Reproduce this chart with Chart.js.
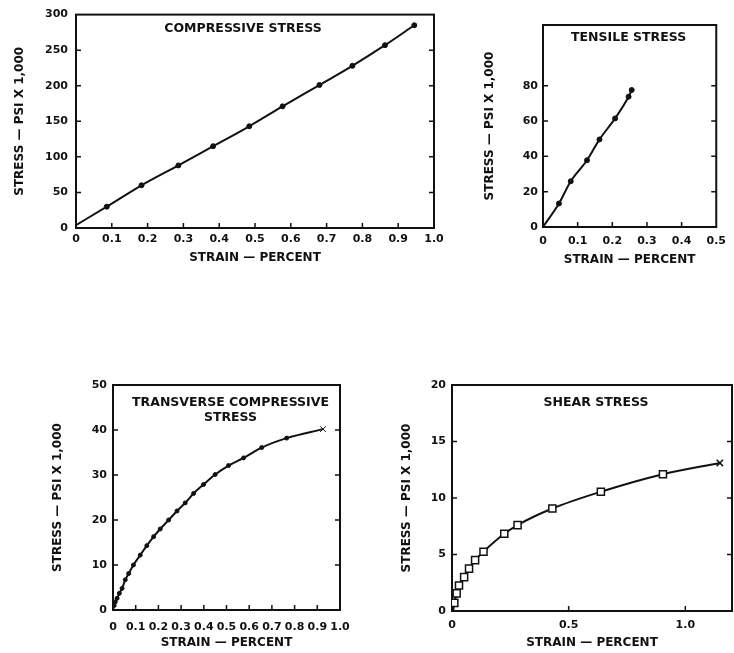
<!DOCTYPE html>
<html>
<head>
<meta charset="utf-8">
<script src="https://cdn.jsdelivr.net/npm/chart.js@4.4.0/dist/chart.umd.min.js"></script>
<style>
  body { margin: 0; background: #fff; width: 734px; height: 653px; position: relative; overflow: hidden; }
  canvas { position: absolute; }
  #comp  { left: 0;     top: 0; }
  #tens  { left: 470px; top: 0; }
  #trans { left: 0;     top: 370px; }
  #shear { left: 380px; top: 370px; }
</style>
</head>
<body>
<canvas id="comp" width="450" height="270"></canvas>
<canvas id="tens" width="264" height="270"></canvas>
<canvas id="trans" width="370" height="283"></canvas>
<canvas id="shear" width="354" height="283"></canvas>
<script>
// --- values (strain in percent, stress in psi x 1,000) ---
const compStrain = [0, 0.086, 0.183, 0.286, 0.383, 0.484, 0.577, 0.68, 0.772, 0.863, 0.945];
const compStress = [4, 30, 60, 88, 115, 143, 171, 201, 228, 257, 285];

const tensStrain = [0, 0.046, 0.08, 0.127, 0.163, 0.208, 0.247, 0.256];
const tensStress = [0, 13.3, 25.9, 37.8, 49.6, 61.5, 73.8, 77.6];

const transStrain = [0, 0.005, 0.01, 0.018, 0.028, 0.04, 0.054, 0.069, 0.09, 0.12, 0.149, 0.179,
                     0.208, 0.245, 0.282, 0.318, 0.355, 0.399, 0.45, 0.509, 0.575, 0.655, 0.765, 0.925];
const transStress = [0, 1, 1.8, 2.6, 3.7, 4.8, 6.7, 8.1, 10, 12.2, 14.3, 16.3,
                     18, 20, 22, 23.8, 25.9, 27.9, 30.1, 32.1, 33.8, 36.1, 38.2, 40.2];

const shearStrain = [0.005, 0.01, 0.02, 0.03, 0.052, 0.073, 0.099, 0.135, 0.224, 0.281, 0.43, 0.638, 0.904, 1.148];
const shearStress = [0, 0.72, 1.56, 2.25, 3.0, 3.75, 4.5, 5.25, 6.83, 7.6, 9.07, 10.55, 12.1, 13.1];

const xAxisTitle = 'STRAIN — PERCENT';
const yAxisTitle = 'STRESS — PSI X 1,000';

const INK = '#111';
Chart.defaults.font.family = "'DejaVu Sans', sans-serif";
Chart.defaults.font.weight = 'bold';
Chart.defaults.color = INK;

// box round the plot area + small inward ticks on bottom, left and right
const frameTicks = {
  id: 'frameTicks',
  beforeDatasetsDraw(chart) {
    const { ctx, chartArea: a, scales: { x, y } } = chart;
    ctx.save();
    ctx.strokeStyle = INK;
    ctx.lineWidth = 2;
    ctx.strokeRect(a.left, a.top, a.right - a.left, a.bottom - a.top);
    ctx.lineWidth = 1.5;
    ctx.beginPath();
    x.ticks.forEach(t => {
      const px = x.getPixelForValue(t.value);
      if (px <= a.left + 1 || px >= a.right - 1) return;
      ctx.moveTo(px, a.bottom);
      ctx.lineTo(px, a.bottom - 5);
    });
    y.ticks.forEach(t => {
      const py = y.getPixelForValue(t.value);
      if (py <= a.top + 1 || py >= a.bottom - 1) return;
      ctx.moveTo(a.left, py);
      ctx.lineTo(a.left + 5, py);
      ctx.moveTo(a.right, py);
      ctx.lineTo(a.right - 5, py);
    });
    ctx.stroke();
    ctx.restore();
  }
};

// caption written inside each plot
const panelTitle = {
  id: 'panelTitle',
  afterDraw(chart, args, o) {
    if (!o || !o.lines) return;
    const { ctx, chartArea: a } = chart;
    ctx.save();
    ctx.font = `bold ${o.size}px 'DejaVu Sans', sans-serif`;
    ctx.fillStyle = INK;
    ctx.textAlign = 'center';
    ctx.textBaseline = 'middle';
    const cx = (a.left + a.right) / 2 + o.dx;
    o.lines.forEach((s, i) => ctx.fillText(s, cx, a.top + o.top + i * o.gap));
    ctx.restore();
  }
};

Chart.register(frameTicks, panelTitle);

function fmtX(v) {
  return v === 0 ? '0' : v.toFixed(1);
}

function makePanel(p) {
  const n = p.strain.length;
  const styles = p.strain.map((v, i) => (i === n - 1 && p.endMark) ? p.endMark : p.mark);
  const radius = p.strain.map((v, i) => {
    if (i === 0) return 0;
    if (i === n - 1 && p.endMark) return p.endRadius;
    return p.radius;
  });
  const fills = p.strain.map((v, i) => (p.mark === 'rect' && !(i === n - 1 && p.endMark)) ? '#fff' : INK);

  return new Chart(document.getElementById(p.id), {
    type: 'line',
    data: {
      datasets: [{
        data: p.strain.map((v, i) => ({ x: v, y: p.stress[i] })),
        borderColor: INK,
        borderWidth: 2,
        cubicInterpolationMode: 'monotone',
        pointStyle: styles,
        pointRadius: radius,
        pointBackgroundColor: fills,
        pointBorderColor: INK,
        pointBorderWidth: p.markLine
      }]
    },
    options: {
      responsive: false,
      animation: false,
      layout: { autoPadding: false, padding: { top: p.padTop, right: p.padRight, left: 0, bottom: 0 } },
      plugins: {
        legend: { display: false },
        tooltip: { enabled: false },
        panelTitle: p.title
      },
      scales: {
        x: {
          type: 'linear',
          min: 0,
          max: p.xMax,
          afterFit: s => { s.height = p.xHeight; },
          grid: { display: false, drawTicks: false },
          border: { display: false },
          ticks: {
            stepSize: p.xStep, includeBounds: false, autoSkip: false, maxRotation: 0,
            padding: p.xPad, color: INK, font: { size: 11, weight: 'bold' }, callback: fmtX
          },
          title: {
            display: true, text: xAxisTitle, color: INK,
            font: { size: 12, weight: 'bold' }, padding: { top: 0, bottom: p.xTitlePad }
          }
        },
        y: {
          type: 'linear',
          min: 0,
          max: p.yMax,
          afterFit: s => { s.width = p.yWidth; },
          afterBuildTicks: s => { s.ticks = s.ticks.filter(t => t.value <= p.yLast); },
          grid: { display: false, drawTicks: false },
          border: { display: false },
          ticks: {
            stepSize: p.yStep, includeBounds: false, padding: p.yPad,
            color: INK, font: { size: 11, weight: 'bold' }
          },
          title: {
            display: true, text: yAxisTitle, color: INK,
            font: { size: 12, weight: 'bold' }, padding: { top: p.yTitlePad, bottom: 0 }
          }
        }
      }
    }
  });
}

makePanel({
  id: 'comp', strain: compStrain, stress: compStress,
  mark: 'circle', radius: 2.5, markLine: 1, endMark: null,
  xMax: 1.0, xStep: 0.1, yMax: 300, yStep: 50, yLast: 300,
  yWidth: 76, xHeight: 42, padTop: 14, padRight: 16,
  xPad: 5, xTitlePad: 5, yPad: 8, yTitlePad: 13,
  title: { lines: ['COMPRESSIVE STRESS'], size: 12.5, dx: -12, top: 14, gap: 15 }
});

makePanel({
  id: 'tens', strain: tensStrain, stress: tensStress,
  mark: 'circle', radius: 2.5, markLine: 1, endMark: null,
  xMax: 0.5, xStep: 0.1, yMax: 114.4, yStep: 20, yLast: 80,
  yWidth: 73, xHeight: 43, padTop: 25, padRight: 8,
  xPad: 8, xTitlePad: 3, yPad: 5, yTitlePad: 13,
  title: { lines: ['TENSILE STRESS'], size: 12.5, dx: -1, top: 13, gap: 15 }
});

makePanel({
  id: 'trans', strain: transStrain, stress: transStress,
  mark: 'circle', radius: 2, markLine: 1, endMark: 'crossRot', endRadius: 4,
  xMax: 1.0, xStep: 0.1, yMax: 50, yStep: 10, yLast: 50,
  yWidth: 113, xHeight: 43, padTop: 15, padRight: 30,
  xPad: 11, xTitlePad: 3, yPad: 6, yTitlePad: 51,
  title: { lines: ['TRANSVERSE COMPRESSIVE', 'STRESS'], size: 12.5, dx: 4, top: 18, gap: 15 }
});

makePanel({
  id: 'shear', strain: shearStrain, stress: shearStress,
  mark: 'rect', radius: 5, markLine: 1.5, endMark: 'crossRot', endRadius: 4.5,
  xMax: 1.2, xStep: 0.5, yMax: 20, yStep: 5, yLast: 20,
  yWidth: 72, xHeight: 42, padTop: 15, padRight: 2,
  xPad: 8, xTitlePad: 2.5, yPad: 6, yTitlePad: 19.5,
  title: { lines: ['SHEAR STRESS'], size: 12.5, dx: 4, top: 18, gap: 15 }
});
</script>
</body>
</html>
